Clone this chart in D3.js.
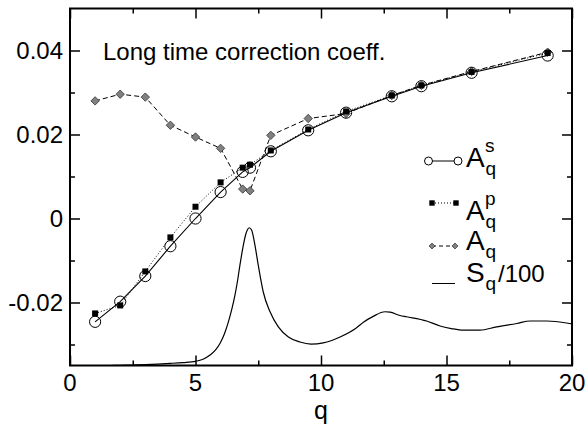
<!DOCTYPE html>
<html>
<head>
<meta charset="utf-8">
<script src="https://cdn.jsdelivr.net/npm/d3@7"></script>
<style>
  html, body { margin: 0; padding: 0; background: #fff; }
  svg { display: block; font-family: "Liberation Sans", Arial, sans-serif; }
</style>
</head>
<body>
<svg id="chart" width="587" height="424"></svg>
<script>
// Wave numbers at which the coefficients were evaluated
const qValues = [1, 2, 3, 4, 5, 6, 6.88, 7.17, 8, 9.49, 11, 12.82, 14, 16, 19.03];
// A^s_q (open circles, solid)
const aS = [-0.0246, -0.0198, -0.0137, -0.0066, 0.0, 0.0063, 0.0111, 0.0121, 0.0160, 0.0210, 0.0252, 0.0291, 0.0315, 0.0347, 0.0388];
// A^p_q (filled squares, dotted)
const aP = [-0.0226, -0.0207, -0.0126, -0.0045, 0.0028, 0.0086, 0.0121, 0.0128, 0.0162, 0.0212, 0.0255, 0.0293, 0.0317, 0.0349, 0.0394];
// A_q (grey diamonds, dashed)
const aQ = [0.0280, 0.0296, 0.0289, 0.0222, 0.0194, 0.0167, 0.0070, 0.0066, 0.0198, 0.0238, 0.0250, 0.0293, 0.0317, 0.0350, 0.0396];

// Static structure factor S(q), drawn as S/100 shifted down by a constant
const sQ = [1.6, 2, 3, 4, 4.5, 5, 5.3, 5.58, 5.8, 5.98, 6.15, 6.31, 6.45, 6.57, 6.67, 6.77, 6.85, 6.93, 7.0, 7.06, 7.14, 7.24, 7.3, 7.37, 7.5, 7.6, 7.7, 7.97, 8.3, 8.7, 9.16, 9.6, 10.09, 10.76, 11.42, 11.69, 12.08, 12.55, 12.75, 13.15, 13.41, 14.21, 14.74, 15.19, 15.67, 16.33, 17.0, 17.8, 18.33, 19.0, 19.9, 20];
const sVal = [0, 0.005, 0.02, 0.05, 0.07, 0.10, 0.15, 0.25, 0.37, 0.53, 0.75, 1.04, 1.35, 1.67, 2.0, 2.39, 2.68, 2.94, 3.12, 3.22, 3.28, 3.22, 3.08, 2.86, 2.39, 2.05, 1.75, 1.28, 0.92, 0.68, 0.56, 0.51, 0.54, 0.68, 0.90, 1.03, 1.17, 1.28, 1.27, 1.19, 1.16, 1.06, 0.94, 0.88, 0.84, 0.84, 0.92, 1.0, 1.06, 1.06, 1.0, 0.99];
const sOffset = -0.035;

// Axis ticks
const xMajor = [0, 5, 10, 15, 20];
const xMinor = [2.5, 7.5, 12.5, 17.5];
const yMajor = [-0.02, 0, 0.02, 0.04];
const yMinor = [-0.03, -0.01, 0.01, 0.03];
const yTickLabels = ["-0.02", "0", "0.02", "0.04"];

const svg = d3.select("#chart");
const L = 70, R = 572, T = 8.5, B = 365.5;

const x = d3.scaleLinear().domain([0, 20]).range([L, R]);
const y = d3.scaleLinear().domain([-0.035, 0.05]).range([B, T]);

// Inward ticks on all four sides
function tickAxis(axis, transform) {
  svg.append("g").attr("transform", transform).call(axis)
    .call(g => g.select(".domain").remove())
    .call(g => g.selectAll("line").attr("stroke", "#000").attr("stroke-width", 1.5))
    .call(g => g.selectAll("text").remove());
}
tickAxis(d3.axisBottom(x).tickValues(xMajor).tickSize(-10), `translate(0,${B})`);
tickAxis(d3.axisBottom(x).tickValues(xMinor).tickSize(-5), `translate(0,${B})`);
tickAxis(d3.axisTop(x).tickValues(xMajor).tickSize(-10), `translate(0,${T})`);
tickAxis(d3.axisTop(x).tickValues(xMinor).tickSize(-5), `translate(0,${T})`);
tickAxis(d3.axisLeft(y).tickValues(yMajor).tickSize(-10), `translate(${L},0)`);
tickAxis(d3.axisLeft(y).tickValues(yMinor).tickSize(-5), `translate(${L},0)`);
tickAxis(d3.axisRight(y).tickValues(yMajor).tickSize(-10), `translate(${R},0)`);
tickAxis(d3.axisRight(y).tickValues(yMinor).tickSize(-5), `translate(${R},0)`);

// Tick labels
svg.append("g").selectAll("text").data(xMajor).join("text")
  .attr("x", d => x(d)).attr("y", 391)
  .attr("text-anchor", "middle").attr("font-size", 24)
  .text(d => d);
svg.append("g").selectAll("text").data(yMajor).join("text")
  .attr("x", 63).attr("y", d => y(d) + 8.5)
  .attr("text-anchor", "end").attr("font-size", 24)
  .text((d, i) => yTickLabels[i]);

// Axis title
svg.append("text").attr("x", x(10)).attr("y", 419)
  .attr("text-anchor", "middle").attr("font-size", 25).text("q");

// Frame
svg.append("rect").attr("x", L).attr("y", T).attr("width", R - L).attr("height", B - T)
  .attr("fill", "none").attr("stroke", "#000").attr("stroke-width", 2);

// Annotation
svg.append("text").attr("x", 103).attr("y", 60).attr("font-size", 24)
  .text("Long time correction coeff.");

const plot = svg.append("g");

// S(q)/100 curve
const sPts = sQ.map((q, i) => [q, sVal[i] / 100 + sOffset]);
plot.append("path")
  .attr("d", d3.line().x(d => x(d[0])).y(d => y(d[1])).curve(d3.curveMonotoneX)(sPts))
  .attr("fill", "none").attr("stroke", "#000").attr("stroke-width", 1.2);

const seriesLine = vals => d3.line().x((d, i) => x(qValues[i])).y(d => y(d))(vals);

// A_q
plot.append("path").attr("d", seriesLine(aQ))
  .attr("fill", "none").attr("stroke", "#000").attr("stroke-width", 1)
  .attr("stroke-dasharray", "5,3");
const diamond = (cx, cy, h) => `M${cx},${cy - h}L${cx + h},${cy}L${cx},${cy + h}L${cx - h},${cy}Z`;
plot.append("g").selectAll("path").data(aQ).join("path")
  .attr("d", (d, i) => diamond(x(qValues[i]), y(d), 4.2))
  .attr("fill", "#808080").attr("stroke", "#333").attr("stroke-width", 0.8);

// A^s_q
plot.append("path").attr("d", seriesLine(aS))
  .attr("fill", "none").attr("stroke", "#000").attr("stroke-width", 1.1);
plot.append("g").selectAll("circle").data(aS).join("circle")
  .attr("cx", (d, i) => x(qValues[i])).attr("cy", d => y(d)).attr("r", 5.6)
  .attr("fill", "none").attr("stroke", "#000").attr("stroke-width", 1);

// A^p_q
plot.append("path").attr("d", seriesLine(aP))
  .attr("fill", "none").attr("stroke", "#000").attr("stroke-width", 1)
  .attr("stroke-dasharray", "1,2");
plot.append("g").selectAll("rect").data(aP).join("rect")
  .attr("x", (d, i) => x(qValues[i]) - 3).attr("y", d => y(d) - 3)
  .attr("width", 6).attr("height", 6).attr("fill", "#000");

// Legend
const lg = svg.append("g");
const lx0 = 428.5, lx1 = 458;
// A^s_q
lg.append("line").attr("x1", lx0).attr("x2", lx1).attr("y1", 161).attr("y2", 161)
  .attr("stroke", "#000").attr("stroke-width", 1);
[lx0, lx1].forEach(cx => lg.append("circle").attr("cx", cx).attr("cy", 161).attr("r", 4)
  .attr("fill", "#fff").attr("stroke", "#000").attr("stroke-width", 1));
// A^p_q
lg.append("line").attr("x1", 432).attr("x2", 456).attr("y1", 203).attr("y2", 203)
  .attr("stroke", "#000").attr("stroke-width", 1).attr("stroke-dasharray", "1,2");
[432, 456].forEach(cx => lg.append("rect").attr("x", cx - 2.7).attr("y", 203 - 2.7)
  .attr("width", 5.4).attr("height", 5.4).attr("fill", "#000"));
// A_q
lg.append("line").attr("x1", 432).attr("x2", 455).attr("y1", 246).attr("y2", 246)
  .attr("stroke", "#000").attr("stroke-width", 1).attr("stroke-dasharray", "4,3");
[432, 455].forEach(cx => lg.append("path").attr("d", diamond(cx, 246, 3))
  .attr("fill", "#808080").attr("stroke", "#333").attr("stroke-width", 0.7));
// S_q/100
lg.append("line").attr("x1", 432).attr("x2", 455).attr("y1", 283.5).attr("y2", 283.5)
  .attr("stroke", "#000").attr("stroke-width", 1);

function legendLabel(base, baseY, sup, sub, tail) {
  const g = lg.append("g");
  g.append("text").attr("x", 466).attr("y", baseY).attr("font-size", 28).text(base);
  if (sup) g.append("text").attr("x", 485).attr("y", baseY - 15).attr("font-size", 19).text(sup);
  if (sub) g.append("text").attr("x", 485.5).attr("y", baseY + 8).attr("font-size", 19).text(sub);
  if (tail) g.append("text").attr("x", 498).attr("y", baseY).attr("font-size", 24).text(tail);
}
legendLabel("A", 167, "s", "q");
legendLabel("A", 220, "p", "q");
legendLabel("A", 250, null, "q");
legendLabel("S", 282, null, "q", "/100");
</script>
</body>
</html>
